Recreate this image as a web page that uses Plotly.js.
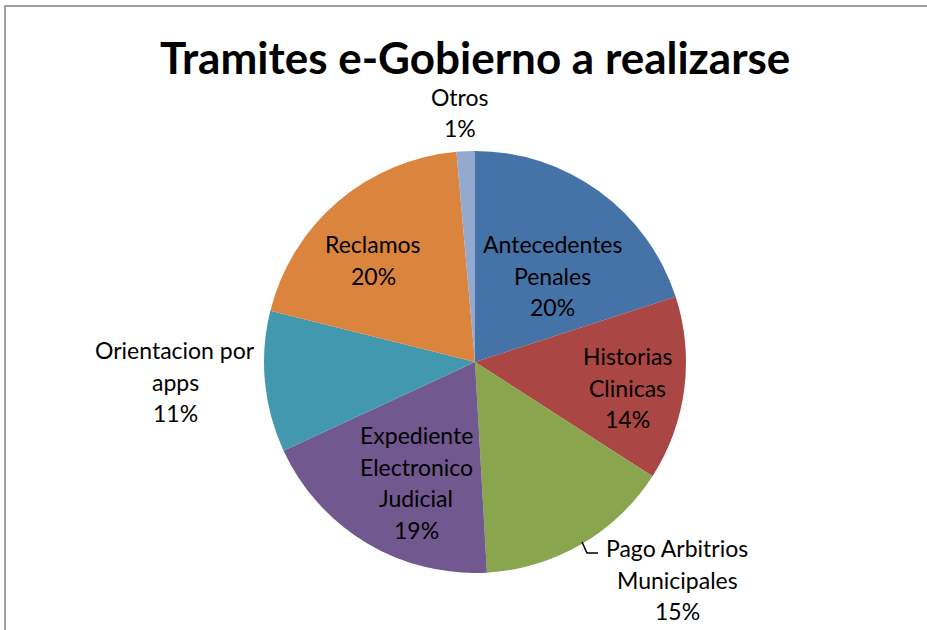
<!DOCTYPE html>
<html><head><meta charset="utf-8">
<script src="https://cdn.plot.ly/plotly-3.0.1.min.js"></script>
<style>html,body{margin:0;padding:0;background:#fff}#chart{width:927px;height:630px}</style>
</head><body><div id="chart"></div>
<script>
const categories = ["Antecedentes Penales","Historias Clinicas","Pago Arbitrios Municipales","Expediente Electronico Judicial","Orientacion por apps","Reclamos","Otros"];
const values = [20.0, 14.1, 15.0, 19.0, 10.8, 19.7, 1.4];
const colors = ["#4572A7","#AA4643","#89A54E","#71588F","#4198AF","#DB843D","#93A9CF"];
const labelLines = [["Antecedentes","Penales"],["Historias","Clinicas"],["Pago Arbitrios","Municipales"],["Expediente","Electronico","Judicial"],["Orientacion por","apps"],["Reclamos"],["Otros"]];
// label anchor (px) of first line center
const labelPos = [[552,244],[627,356],[677,548],[416,435],[175,350],[373,244],[460,97]];

const W=927,H=630;
const px=(x)=>x/W, py=(y)=>1-y/H;
const total = values.reduce((a,b)=>a+b,0);
const FONT = "Lato, 'Open Sans', sans-serif";
const LH = 31.5;
const annotations=[];
categories.forEach((c,i)=>{
  const lines = labelLines[i].concat([Math.round(values[i]/total*100)+"%"]);
  lines.forEach((t,j)=>{
    annotations.push({xref:'paper',yref:'paper',x:px(labelPos[i][0]),y:py(labelPos[i][1]+j*LH),
      text:t,showarrow:false,xanchor:'center',yanchor:'middle',font:{family:FONT,size:23,color:'#000'}});
  });
});
annotations.push({xref:'paper',yref:'paper',x:px(475),y:py(57),text:"<b>Tramites e-Gobierno a realizarse</b>",showarrow:false,
  xanchor:'center',yanchor:'middle',font:{family:FONT,size:44,color:'#000'}});

const cx=475, cy=362, r=211;
const data=[{type:'pie',values:values,labels:categories,marker:{colors:colors,line:{width:0}},
  sort:false,direction:'clockwise',rotation:0,textinfo:'none',hoverinfo:'label+percent',
  domain:{x:[(cx-r)/W,(cx+r)/W],y:[(H-cy-r)/H,(H-cy+r)/H]}}];
const shapes=[
  {type:'rect',xref:'paper',yref:'paper',x0:px(5),x1:1.05,y0:-0.05,y1:py(6),line:{color:'#808080',width:1.5},fillcolor:'rgba(0,0,0,0)'},
  {type:'path',xref:'paper',yref:'paper',path:`M ${px(582)} ${py(542)} L ${px(587)} ${py(553)} L ${px(598)} ${py(553)}`,line:{color:'#000',width:1.5}}
];
const layout={width:W,height:H,margin:{l:0,r:0,t:0,b:0},paper_bgcolor:'#fff',showlegend:false,annotations:annotations,shapes:shapes};
Plotly.newPlot('chart',data,layout,{displayModeBar:false,staticPlot:true});
</script></body></html>
